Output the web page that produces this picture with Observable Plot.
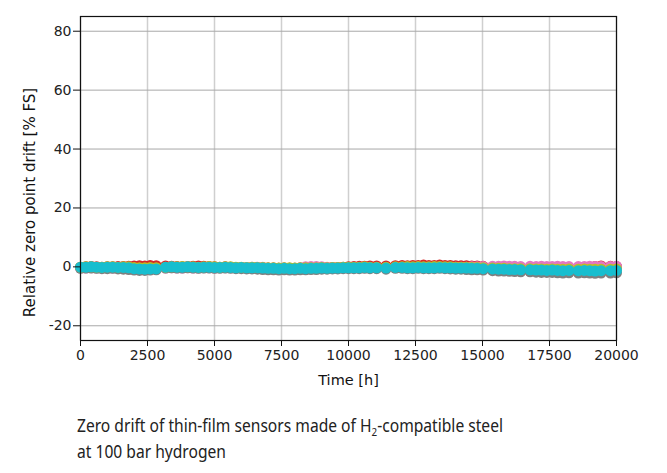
<!DOCTYPE html>
<html>
<head>
<meta charset="utf-8">
<script src="https://cdn.jsdelivr.net/npm/d3@7"></script>
<script src="https://cdn.jsdelivr.net/npm/@observablehq/plot@0.6"></script>
<style>
  html, body { margin: 0; padding: 0; background: #fff; }
  #wrap { position: relative; width: 667px; height: 473px; overflow: hidden; }
  #chart { position: absolute; left: 0; top: 0; }
  #caption { position: absolute; left: 77px; top: 412px; font-family: "Noto Sans", "Open Sans", sans-serif; font-size: 17.5px; line-height: 26px; color: #222; transform-origin: 0 0; white-space: nowrap; }
  #caption sub { font-size: 11px; vertical-align: -4px; line-height: 0; }
</style>
</head>
<body>
<div id="wrap">
  <div id="chart"></div>
  <div id="caption"><span id="line1">Zero drift of thin-film sensors made of H<sub>2</sub>-compatible steel</span><br>at 100 bar hydrogen</div>
</div>
<script>
// Sample times [h]
const times = [0,200,400,600,800,1000,1200,1400,1600,1800,
  2000,2200,2400,2600,2825,3000,3175,3400,3600,3800,
  4000,4200,4400,4600,4800,5000,5200,5400,5600,5800,
  6000,6200,6400,6600,6800,7000,7200,7400,7600,7800,
  8000,8200,8400,8600,8800,9000,9200,9400,9600,9800,
  10000,10200,10400,10600,10800,11050,11200,11400,11600,11750,
  12000,12200,12400,12600,12800,13000,13200,13400,13600,13800,
  14000,14200,14400,14600,14800,15025,15200,15375,15600,15800,
  16000,16200,16425,16600,16775,17000,17200,17400,17600,17800,
  18000,18225,18400,18575,18800,19000,19200,19425,19600,19775,20000];

// Relative zero point drift [% FS] per sensor (null = no measurement)
const sensorRed = [-0.1,0,0.1,0,-0.1,0,0,0.1,0.1,0.2,
  0.3,0.4,0.3,0.5,0.4,null,
  0.3,0.2,0.1,0,0.1,0.2,0.3,0.2,0.1,0,-0.1,0,-0.1,-0.2,-0.2,-0.3,-0.2,-0.3,-0.3,
  -0.4,-0.4,-0.5,-0.4,-0.5,-0.5,-0.4,-0.5,-0.4,-0.4,-0.3,-0.3,-0.2,-0.2,-0.1,0,
  0.1,0.2,0.2,0.3,0.3,null,0.3,null,
  0.4,0.5,0.4,0.5,0.5,0.6,0.5,0.5,0.6,0.5,0.5,0.4,0.4,0.4,0.3,0.3,0.2,null,
  -0.3,-0.4,-0.4,-0.5,-0.5,-0.5,null,
  -0.6,-0.6,-0.7,-0.7,-0.6,-0.7,-0.7,-0.6,null,
  -0.5,-0.4,-0.2,0.1,0.3,null,0.2,0.1];

const sensorPink = [-0.4,-0.4,-0.3,-0.4,-0.4,-0.3,-0.4,-0.4,-0.5,-0.5,
  -0.8,-0.8,-0.9,-0.8,-0.8,null,
  -0.4,-0.3,-0.4,-0.4,-0.3,-0.4,-0.4,-0.3,-0.3,-0.4,-0.3,-0.3,-0.3,-0.3,-0.2,-0.2,-0.1,-0.1,-0.1,
  -0.4,-0.4,-0.5,-0.4,-0.5,-0.5,-0.3,0,0.1,0.1,0,-0.1,-0.2,-0.3,-0.3,-0.3,
  -0.3,-0.3,-0.3,-0.3,-0.3,null,-0.3,null,
  -0.2,-0.2,-0.2,-0.3,-0.2,-0.2,-0.2,-0.2,-0.2,-0.2,-0.2,-0.1,-0.1,-0.1,0,0,0.1,null,
  0.2,0.2,0.3,0.2,0.2,0.1,null,
  0.2,0.1,0.2,0.1,0.1,0.2,0.1,0.1,null,
  0.1,0.1,0.2,0.1,0.1,null,0.1,0.2];

const sensorGray = [-0.5,-0.4,-0.4,-0.5,-0.6,-0.6,-0.5,-0.7,-0.8,-0.9,
  -1.1,-1.2,-1.2,-1.1,-1.0,null,
  -0.4,-0.3,-0.4,-0.4,-0.3,-0.4,-0.5,-0.4,-0.4,-0.5,-0.5,-0.4,-0.5,-0.6,-0.6,-0.7,-0.7,-0.8,-0.9,
  -1.0,-1.0,-1.1,-1.0,-1.1,-1.1,-1.0,-1.0,-0.9,-0.9,-0.8,-0.8,-0.7,-0.7,-0.6,-0.6,
  -0.6,-0.6,-0.5,-0.6,-0.6,null,-0.8,null,
  -0.5,-0.5,-0.6,-0.6,-0.5,-0.6,-0.6,-0.6,-0.5,-0.6,-0.7,-0.8,-0.8,-0.9,-1.0,-1.0,-1.1,null,
  -1.3,-1.4,-1.4,-1.5,-1.6,-1.7,null,
  -1.7,-1.8,-1.9,-1.9,-1.9,-2.0,-2.1,-2.0,null,
  -2.1,-2.0,-2.1,-2.2,-2.1,null,-2.1,-2.0];

const sensorOlive = [-0.1,0,0,-0.1,-0.1,0,0,-0.1,0,0,
  -0.2,-0.3,-0.3,-0.2,-0.3,null,
  -0.1,0,0,0.1,0,0,-0.1,0,0.1,0,-0.1,0,0,-0.1,-0.1,-0.2,-0.1,-0.2,-0.2,
  -0.3,-0.3,-0.4,-0.3,-0.3,-0.4,-0.3,-0.3,-0.3,-0.3,-0.2,-0.3,-0.2,-0.2,-0.1,-0.1,
  -0.1,-0.1,0,-0.1,-0.1,null,-0.1,null,
  0,0,0.1,0,0.1,0,0,0.1,0.1,0,0,-0.1,-0.1,-0.1,-0.2,-0.2,-0.3,null,
  -0.4,-0.5,-0.5,-0.6,-0.6,-0.6,null,
  -0.6,-0.7,-0.7,-0.8,-0.7,-0.8,-0.8,-0.7,null,
  -0.8,-0.7,-0.8,-0.8,-0.8,null,-0.8,-0.7];

const sensorCyan = [-0.1,-0.1,0,-0.1,-0.2,-0.1,-0.1,-0.2,-0.2,-0.3,
  -0.6,-0.7,-0.8,-0.7,-0.7,null,
  -0.1,0,-0.1,-0.1,0,-0.1,-0.2,-0.1,-0.1,-0.2,-0.2,-0.1,-0.2,-0.3,-0.2,-0.3,-0.3,-0.3,-0.4,
  -0.5,-0.5,-0.6,-0.5,-0.6,-0.6,-0.5,-0.6,-0.5,-0.5,-0.4,-0.5,-0.4,-0.4,-0.3,-0.3,
  -0.3,-0.3,-0.2,-0.3,-0.3,null,-0.4,null,
  -0.2,-0.2,-0.3,-0.3,-0.2,-0.3,-0.3,-0.3,-0.2,-0.3,-0.3,-0.4,-0.4,-0.4,-0.5,-0.5,-0.6,null,
  -0.7,-0.8,-0.8,-0.9,-0.9,-1.0,null,
  -1.0,-1.1,-1.1,-1.2,-1.1,-1.2,-1.3,-1.2,null,
  -1.3,-1.2,-1.3,-1.4,-1.3,null,-1.3,-1.2];

const series = [
  {values: sensorRed, color: "#d62728"},
  {values: sensorPink, color: "#e377c2"},
  {values: sensorGray, color: "#7f7f7f"},
  {values: sensorOlive, color: "#bcbd22"},
  {values: sensorCyan, color: "#17becf"}
];

const xTicks = [0,2500,5000,7500,10000,12500,15000,17500,20000];
const yTicks = [-20,0,20,40,60,80];

const dotMarks = series.map(s => Plot.dot(times, {x: d => d, y: s.values, r: 5.5, fill: s.color, stroke: "none"}));

const chart = Plot.plot({
  width: 667,
  height: 392,
  marginLeft: 80,
  marginRight: 51,
  marginTop: 16,
  marginBottom: 52,
  style: {fontFamily: "DejaVu Sans, sans-serif", fontSize: "14px", color: "#222", background: "#fff"},
  x: {domain: [0, 20000]},
  y: {domain: [-25, 85]},
  marks: [
    Plot.gridX(xTicks, {stroke: "#cfcfcf", strokeWidth: 1.5, strokeOpacity: 1}),
    Plot.gridY(yTicks, {stroke: "#a8a8a8", strokeWidth: 1, strokeOpacity: 1}),
    ...dotMarks,
    Plot.frame({stroke: "#111", strokeWidth: 1.2}),
    Plot.axisX({ticks: xTicks, tickFormat: d => String(d), tickSize: 6, tickPadding: 4, label: null, fontSize: 14, stroke: "#111"}),
    Plot.axisY({ticks: yTicks, tickFormat: d => String(d), tickSize: 7, tickPadding: 2, label: null, fontSize: 14, stroke: "#111"}),
    Plot.text(["Time [h]"], {frameAnchor: "bottom", dy: 44, text: d => d, fontSize: 14.5, fill: "#111"}),
    Plot.text(["Relative zero point drift [% FS]"], {frameAnchor: "left", textAnchor: "middle", lineAnchor: "middle", dx: -50, dy: 24, rotate: -90, text: d => d, fontSize: 15, fill: "#111"})
  ]
});
document.getElementById("chart").appendChild(chart);

// fit caption to the reference width (first line ≈ 426px)
const cap = document.getElementById("caption");
const w = document.getElementById("line1").getBoundingClientRect().width;
if (w > 0) cap.style.transform = `scaleX(${426 / w})`;
</script>
</body>
</html>
